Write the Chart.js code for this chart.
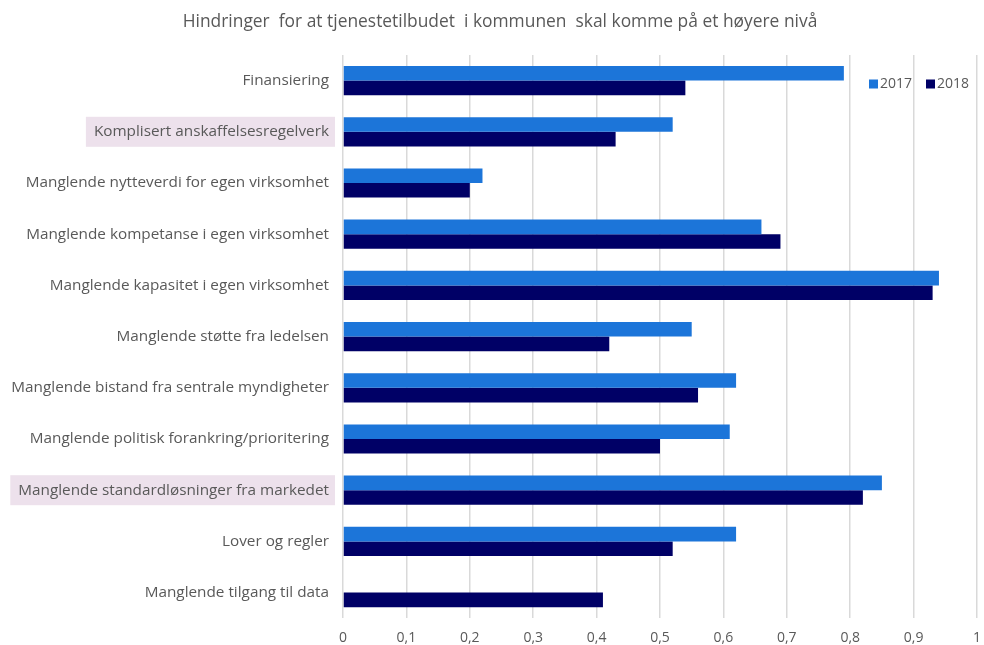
<!DOCTYPE html>
<html lang="no">
<head>
  <meta charset="UTF-8">
  <title>Hindringer for at tjenestetilbudet i kommunen skal komme på et høyere nivå</title>
  <style>
body {
  margin: 0;
  padding: 0;
  background: #ffffff;
}

.chart-box {
  position: relative;
  width: 984px;
  height: 645px;
}
  </style>
</head>
<body>

  <div class="chart-box">
    <canvas id="hindringer"></canvas>
  </div>

  <script src="https://cdn.jsdelivr.net/npm/chart.js"></script>

  <script>
    // Data
    const chartTitle = 'Hindringer  for at tjenestetilbudet  i kommunen  skal komme på et høyere nivå';
    const categories = [
      'Finansiering',
      'Komplisert anskaffelsesregelverk',
      'Manglende nytteverdi for egen virksomhet',
      'Manglende kompetanse i egen virksomhet',
      'Manglende kapasitet i egen virksomhet',
      'Manglende støtte fra ledelsen',
      'Manglende bistand fra sentrale myndigheter',
      'Manglende politisk forankring/prioritering',
      'Manglende standardløsninger fra markedet',
      'Lover og regler',
      'Manglende tilgang til data'
    ];
    const values2017 = [0.79, 0.52, 0.22, 0.66, 0.94, 0.55, 0.62, 0.61, 0.85, 0.62, null];
    const values2018 = [0.54, 0.43, 0.20, 0.69, 0.93, 0.42, 0.56, 0.50, 0.82, 0.52, 0.41];
    const highlighted = ['Komplisert anskaffelsesregelverk', 'Manglende standardløsninger fra markedet'];

    const textColor = '#595959';
    const fontFamily = '"Open Sans", "Liberation Sans", Arial, sans-serif';
    const labelFont = '15.3px ' + fontFamily;

    // title drawn by hand so it can sit a little right of centre like the original
    const titleText = {
      id: 'titleText',
      afterDraw(chart) {
        const ctx = chart.ctx;
        ctx.save();
        ctx.font = '17.4px ' + fontFamily;
        ctx.fillStyle = textColor;
        ctx.textAlign = 'center';
        ctx.textBaseline = 'middle';
        ctx.fillText(chartTitle, 500, 22);
        ctx.restore();
      }
    };

    // pink box behind some of the category labels
    const labelHighlight = {
      id: 'labelHighlight',
      beforeDraw(chart) {
        const ctx = chart.ctx;
        const yScale = chart.scales.y;
        const right = 329;
        ctx.save();
        ctx.font = labelFont;
        ctx.fillStyle = '#ede1ec';
        yScale.ticks.forEach((t, i) => {
          const label = categories[i];
          if (!highlighted.includes(label)) return;
          const w = ctx.measureText(label).width;
          const y = yScale.getPixelForTick(i);
          ctx.fillRect(right - w - 8, y - 15, w + 14, 30);
        });
        ctx.restore();
      }
    };

    // legend sits inside the plot, top right
    const insideLegend = {
      id: 'insideLegend',
      afterDraw(chart) {
        const ctx = chart.ctx;
        const y = 84;
        let x = 869;
        ctx.save();
        ctx.font = '14px ' + fontFamily;
        ctx.textBaseline = 'middle';
        chart.data.datasets.forEach(ds => {
          ctx.fillStyle = ds.backgroundColor;
          ctx.fillRect(x, y - 4.5, 9, 9);
          ctx.fillStyle = textColor;
          ctx.fillText(ds.label, x + 11, y);
          x += 57;
        });
        ctx.restore();
      }
    };

    const ctx = document.getElementById('hindringer').getContext('2d');

    new Chart(ctx, {
      type: 'bar',
      data: {
        labels: categories,
        datasets: [
          {
            label: '2017',
            data: values2017,
            backgroundColor: '#1c75d9',
            categoryPercentage: 0.57,
            barPercentage: 1.0
          },
          {
            label: '2018',
            data: values2018,
            backgroundColor: '#000066',
            categoryPercentage: 0.57,
            barPercentage: 1.0
          }
        ]
      },
      options: {
        indexAxis: 'y',
        responsive: true,
        maintainAspectRatio: false,
        animation: false,
        layout: {
          padding: { left: 0, right: 0, top: 55, bottom: -12 }
        },
        plugins: {
          legend: { display: false },
          tooltip: { enabled: false },
          title: { display: false }
        },
        scales: {
          x: {
            min: 0,
            max: 1,
            ticks: {
              stepSize: 0.1,
              color: textColor,
              font: { family: fontFamily, size: 14 },
              padding: 11,
              callback: v => String(Math.round(v * 10) / 10).replace('.', ',')
            },
            grid: {
              color: '#d9d9d9',
              lineWidth: 1.5,
              drawTicks: false
            },
            border: { display: false },
            afterFit(scale) {
              scale.paddingRight = 7;
            }
          },
          y: {
            ticks: {
              color: textColor,
              font: { family: fontFamily, size: 15.3 },
              padding: 14
            },
            grid: { display: false, drawTicks: false },
            border: { display: false },
            afterFit(scale) {
              scale.width = 343;
            }
          }
        }
      },
      plugins: [labelHighlight, insideLegend, titleText]
    });
  </script>

</body>
</html>
